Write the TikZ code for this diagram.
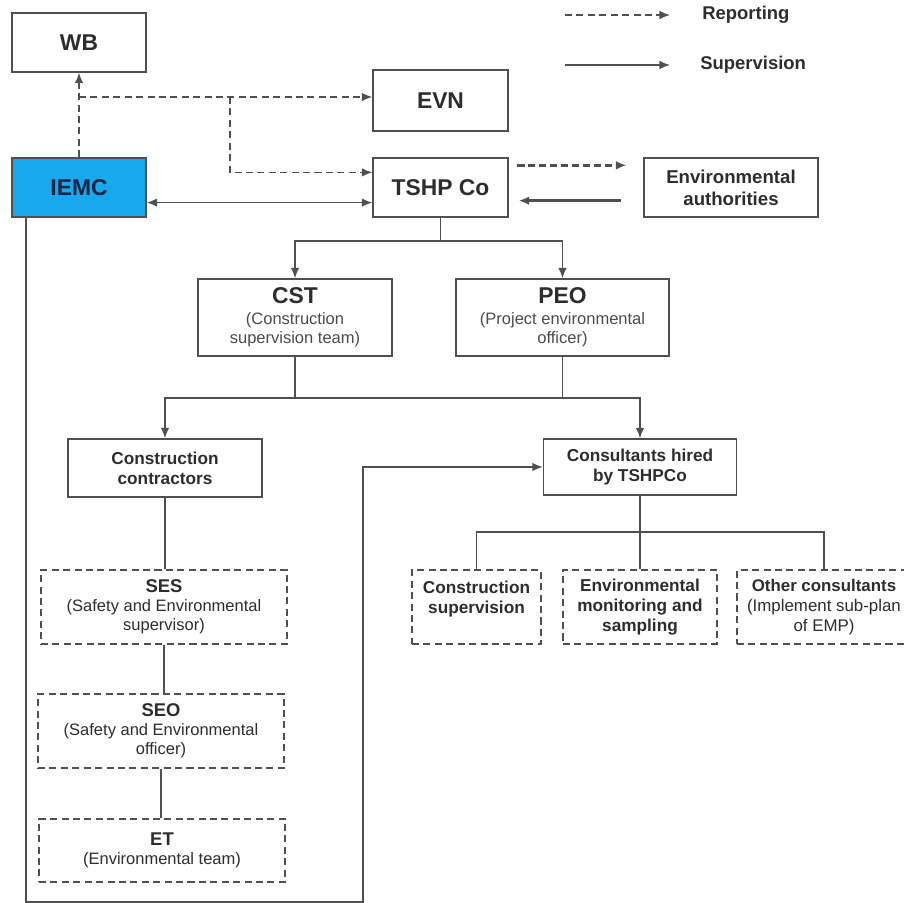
\documentclass[tikz,border=0pt]{standalone}
\usepackage{fontspec}
\setmainfont{Liberation Sans}
\usetikzlibrary{arrows.meta,calc}
\definecolor{linegray}{RGB}{80,80,80}
\definecolor{textgray}{RGB}{45,45,45}
\definecolor{subgray}{RGB}{75,75,75}
\definecolor{iemcblue}{RGB}{24,168,236}
\definecolor{iemctext}{RGB}{20,35,70}
\begin{document}
\begin{tikzpicture}[x=0.02cm,y=-0.02cm]
\tikzstyle{box}=[draw=linegray, line width=0.8pt, align=center, text=textgray, inner sep=2pt]
\tikzstyle{dbox}=[box, dash pattern=on 4pt off 2.5pt]
\tikzstyle{big}=[font=\fontsize{13}{15}\selectfont\bfseries]
\tikzstyle{mid}=[font=\fontsize{9.8}{11.5}\selectfont\bfseries]
\tikzstyle{small}=[font=\fontsize{9.4}{10.8}\selectfont]
\tikzstyle{link}=[draw=linegray, line width=1pt]
\tikzstyle{super}=[link, -{Latex[length=6pt,width=5pt]}]
\tikzstyle{report}=[super, dash pattern=on 4pt off 2.5pt]
\useasboundingbox (0,0) rectangle (904,903);
%
\node[box, big, minimum width=2.68cm, minimum height=1.18cm] at (79,42.5) (WB) {WB};
\node[box, big, minimum width=2.68cm, minimum height=1.18cm, fill=iemcblue, text=iemctext] at (79,187.5) (IEMC) {IEMC};
\node[box, big, minimum width=2.70cm, minimum height=1.22cm] at (440.5,100.5) (EVN) {EVN};
\node[box, big, minimum width=2.70cm, minimum height=1.18cm] at (440.5,187.5) (TSHP) {TSHP Co};
\node[box, font=\fontsize{10.6}{12.5}\selectfont\bfseries, minimum width=3.48cm, minimum height=1.18cm] at (731,187.5) (EA) {Environmental\\authorities};
%
\node[box, small, minimum width=3.88cm, minimum height=1.54cm] at (295,317.5) (CST) {{\fontsize{13}{15}\selectfont\bfseries CST}\\[1pt]\textcolor{subgray}{(Construction}\\\textcolor{subgray}{supervision team)}};
\node[box, small, minimum width=4.26cm, minimum height=1.54cm] at (562.5,317.5) (PEO) {{\fontsize{13}{15}\selectfont\bfseries PEO}\\[1pt]\textcolor{subgray}{(Project environmental}\\\textcolor{subgray}{officer)}};
%
\node[box, mid, minimum width=3.88cm, minimum height=1.16cm] at (165,468) (CC) {Construction\\contractors};
\node[box, mid, minimum width=3.86cm, minimum height=1.12cm] at (640,467) (CH) {Consultants hired\\by TSHPCo};
%
\node[dbox, small, minimum width=4.92cm, minimum height=1.48cm] at (164,607) (SES) {{\fontsize{10.5}{12}\selectfont\bfseries SES}\\(Safety and Environmental\\supervisor)};
\node[dbox, small, minimum width=4.92cm, minimum height=1.48cm] at (161,731) (SEO) {{\fontsize{10.5}{12}\selectfont\bfseries SEO}\\(Safety and Environmental\\officer)};
\node[dbox, small, minimum width=4.92cm, minimum height=1.26cm] at (162,850.5) (ET) {{\fontsize{10.5}{12}\selectfont\bfseries ET}\\(Environmental team)};
%
\node[dbox, mid, minimum width=2.58cm, minimum height=1.48cm] at (476.5,607) (CS) {Construction\\supervision\\\phantom{x}};
\node[dbox, mid, minimum width=3.08cm, minimum height=1.48cm] at (640,607) (EM) {Environmental\\monitoring and\\sampling};
\node[dbox, minimum width=3.48cm, minimum height=1.48cm, font=\fontsize{9.6}{11.5}\selectfont] at (824,607) (OC) {\textbf{Other consultants}\\(Implement sub-plan\\of EMP)};
%
% legend
\node[anchor=west, inner sep=0pt, text=textgray, font=\fontsize{10.5}{12}\selectfont\bfseries] at (702,15) (rep) {Reporting};
\node[anchor=west, inner sep=0pt, text=textgray, font=\fontsize{10.5}{12}\selectfont\bfseries] at (700,65) (sup) {Supervision};
\coordinate (repa) at (565,15);
\coordinate (supa) at (565,65);
\draw[report, shorten >=0.64cm] (repa) -- (rep.west);
\draw[super, shorten >=0.6cm] (supa) -- (sup.west);
%
% reporting lines
\coordinate (rj) at (79,97);
\coordinate (rk) at (230,97);
\draw[report] (IEMC.north) -- (WB.south);
\draw[report] (rj) -- (EVN.west |- rj);
\draw[report] (rk) |- ($(TSHP.north west)!0.25!(TSHP.south west)$);
\draw[super, {Latex[length=6pt,width=5pt]}-{Latex[length=6pt,width=5pt]}] ($(IEMC.north east)!0.75!(IEMC.south east)$) -- ($(TSHP.north west)!0.75!(TSHP.south west)$);
\draw[report, line width=1.4pt, dash pattern=on 4pt off 2.2pt, shorten <=5pt, shorten >=9.6pt] ([yshift=-0.16cm]TSHP.north east) -- ([yshift=-0.16cm]EA.north west);
\draw[super, line width=1.4pt, shorten <=12.5pt, shorten >=5.7pt] ([yshift=0.34cm]EA.south west) -- ([yshift=0.34cm]TSHP.south east);
%
% supervision lines
\draw[super] (TSHP.south) -- ++(0,23) -| (CST.north);
\draw[super] (TSHP.south) -- ++(0,23) -| (PEO.north);
\draw[link] (CST.south) -- ++(0,41) coordinate (cj);
\draw[super] (cj) -| (CC.north);
\draw[super] (cj) -| (CH.north);
\draw[link] (PEO.south) -- (PEO.south |- cj);
\draw[link] (CC.south) -- (CC.south |- SES.north);
\draw[link] (SES.south) -- (SES.south |- SEO.north);
\draw[link] (SEO.south) -- (SEO.south |- ET.north);
\draw[link] (CH.south) -- ++(0,36) coordinate (hj);
\draw[link] (hj) -| (CS.north);
\draw[link] (hj) -| (OC.north);
\draw[link] (hj) -- (EM.north);
\draw[super] ([xshift=0.3cm]IEMC.south west) |- (363,902) |- (CH.west);
\end{tikzpicture}
\end{document}
